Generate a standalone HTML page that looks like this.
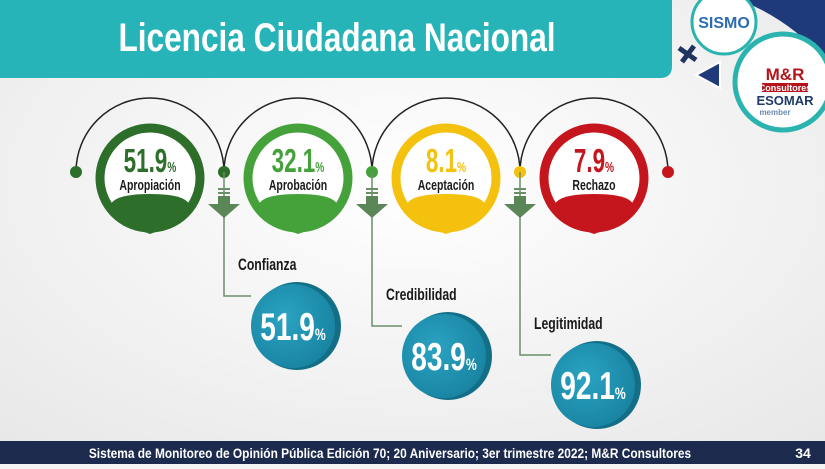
<!DOCTYPE html>
<html><head><meta charset="utf-8">
<style>
html,body{margin:0;padding:0;}
body{width:825px;height:464px;overflow:hidden;background:#f4f4f4;font-family:"Liberation Sans",sans-serif;}
svg text{font-family:"Liberation Sans",sans-serif;font-weight:bold;}
</style></head>
<body>
<svg id="chart" width="825" height="464" viewBox="0 0 825 464" xmlns="http://www.w3.org/2000/svg">
<defs>
<radialGradient id="bg" cx="0.5" cy="0.4" r="0.8"><stop offset="0" stop-color="#ffffff"/><stop offset="1" stop-color="#e6e6e6"/></radialGradient>
<radialGradient id="blue" cx="0.4" cy="0.4" r="0.7"><stop offset="0" stop-color="#2aa3c2"/><stop offset="1" stop-color="#17819f"/></radialGradient>
</defs>
<rect width="825" height="464" fill="url(#bg)"/>
<path d="M0 0 H672 V66 Q672 78 660 78 H0 Z" fill="#27b4b8"/>
<g transform="translate(337,51) scale(0.79,1)"><text x="0" y="0" text-anchor="middle" font-size="40" fill="#fff">Licencia Ciudadana Nacional</text></g>
<g>
<path d="M740 0 H825 V60 Q790 20 740 0Z" fill="#1f3a7a"/>
<circle cx="724" cy="22" r="32" fill="#fff" stroke="#2bb3b0" stroke-width="3"/>
<text x="724" y="28" text-anchor="middle" font-size="16" fill="#2c6cb0">SISMO</text>
<circle cx="783" cy="82" r="48" fill="#fff" stroke="#2bb3b0" stroke-width="5"/>
<text x="785" y="80" text-anchor="middle" font-size="17" fill="#b3151b">M&amp;R</text>
<rect x="762" y="83" width="46" height="9" fill="#b3151b"/>
<text x="785" y="91" text-anchor="middle" font-size="9" fill="#fff">Consultores</text>
<text x="785" y="105" text-anchor="middle" font-size="13" fill="#1f3a6a">ESOMAR</text>
<text x="775" y="115" text-anchor="middle" font-size="8" fill="#6a8ab0" font-weight="normal">member</text>
<path d="M679 48 L696 60 M694 46 L682 62" stroke="#1f3560" stroke-width="5"/>
<path d="M720 62 L696 75 L720 88 Z" fill="#1f3a7a" stroke="#fff" stroke-width="2"/>
</g>
<g id="marks"></g>
<rect x="0" y="441" width="825" height="23" fill="#1c2a4e"/>
<g transform="translate(390,458) scale(0.85,1)"><text x="0" y="0" text-anchor="middle" font-size="14" fill="#fff">Sistema de Monitoreo de Opinión Pública Edición 70; 20 Aniversario; 3er trimestre 2022; M&amp;R Consultores</text></g>
<text x="803" y="458" text-anchor="middle" font-size="14" fill="#fff">34</text>
</svg>
<script>
const topLabels = ["Apropiación","Aprobación","Aceptación","Rechazo"];
const topValues = [51.9, 32.1, 8.1, 7.9];
const topColors = ["#2c6e2a","#45a23a","#f4c10f","#c5161d"];
const bottomLabels = ["Confianza","Credibilidad","Legitimidad"];
const bottomValues = [51.9, 83.9, 92.1];

const NS="http://www.w3.org/2000/svg";
const g=document.getElementById('marks');
function mk(tag,attrs,parent){const e=document.createElementNS(NS,tag);for(const k in attrs)e.setAttribute(k,attrs[k]);(parent||g).appendChild(e);return e;}
function ctext(parent,x,y,sx,attrs){const w=mk('g',{transform:`translate(${x},${y}) scale(${sx},1)`},parent);attrs.x=0;attrs.y=0;return mk('text',attrs,w);}
const step=148, x0=76, dotY=172, cy=178, R=50;
function dotX(i){return x0+i*step;}
function fmt(v){return v.toFixed(1);}

for(let i=0;i<topValues.length;i++){
  const a=mk('path',{d:`M${dotX(i)} ${dotY} A74 74 0 0 1 ${dotX(i+1)} ${dotY}`,fill:'none',stroke:'#222','stroke-width':1.5});
  
  
}
for(let i=0;i<=topValues.length;i++){
  const d=mk('circle',{cx:dotX(i),cy:dotY,r:6,fill:i==0?topColors[0]:topColors[i-1]});
  
  
}
topValues.forEach((v,i)=>{
  const cx=(dotX(i)+dotX(i+1))/2;
  const grp=mk('g',{});
  
  
  mk('circle',{cx:cx,cy:cy,r:R,fill:'#fff',stroke:topColors[i],'stroke-width':9},grp);
  mk('path',{d:`M${cx-40} ${cy+30} Q${cx-40} ${cy+16} ${cx} ${cy+16} Q${cx+40} ${cy+16} ${cx+40} ${cy+30} Q${cx+30} ${cy+46} ${cx} ${cy+56} Q${cx-30} ${cy+46} ${cx-40} ${cy+30}Z`,fill:topColors[i]},grp);
  const t=ctext(grp,cx,cy-6,0.68,{'text-anchor':'middle','font-size':33,fill:topColors[i]});
  t.textContent=fmt(v);
  const p=mk('tspan',{'font-size':15},t); p.textContent='%';
  const l=ctext(grp,cx,cy+12,0.7,{'text-anchor':'middle','font-size':15,fill:'#1a1a1a'});
  l.textContent=topLabels[i];
});
const bcx=[293,444,593], bcy=[326,356,385], br=44;
bottomValues.forEach((v,i)=>{
  const x=dotX(i+1);
  const grp=mk('g',{});
  
  
  mk('path',{d:`M${x} ${dotY} V${bcy[i]-30} H${bcx[i]-br+2}`,fill:'none',stroke:'#6b8f68','stroke-width':1.5},grp);
  mk('rect',{x:x-6,y:dotY+16,width:12,height:2,fill:'#6b8f68'},grp);
  mk('rect',{x:x-6,y:dotY+20,width:12,height:2,fill:'#6b8f68'},grp);
  mk('path',{d:`M${x-6} ${dotY+24} H${x+6} V${dotY+32} H${x+16} L${x} ${dotY+46} L${x-16} ${dotY+32} H${x-6}Z`,fill:'#5b8758'},grp);
  mk('circle',{cx:bcx[i]+4,cy:bcy[i],r:br,fill:'#136f88'},grp);
  mk('circle',{cx:bcx[i],cy:bcy[i],r:br-2,fill:'url(#blue)'},grp);
  const t=ctext(grp,bcx[i],bcy[i]+14,0.72,{'text-anchor':'middle','font-size':39,fill:'#fff'});
  t.textContent=fmt(v);
  const p=mk('tspan',{'font-size':17},t); p.textContent='%';
  const l=ctext(grp,x+14,bcy[i]-56,0.72,{'font-size':17,fill:'#1a1a1a'});
  l.textContent=bottomLabels[i];
});
</script>
</body></html>
